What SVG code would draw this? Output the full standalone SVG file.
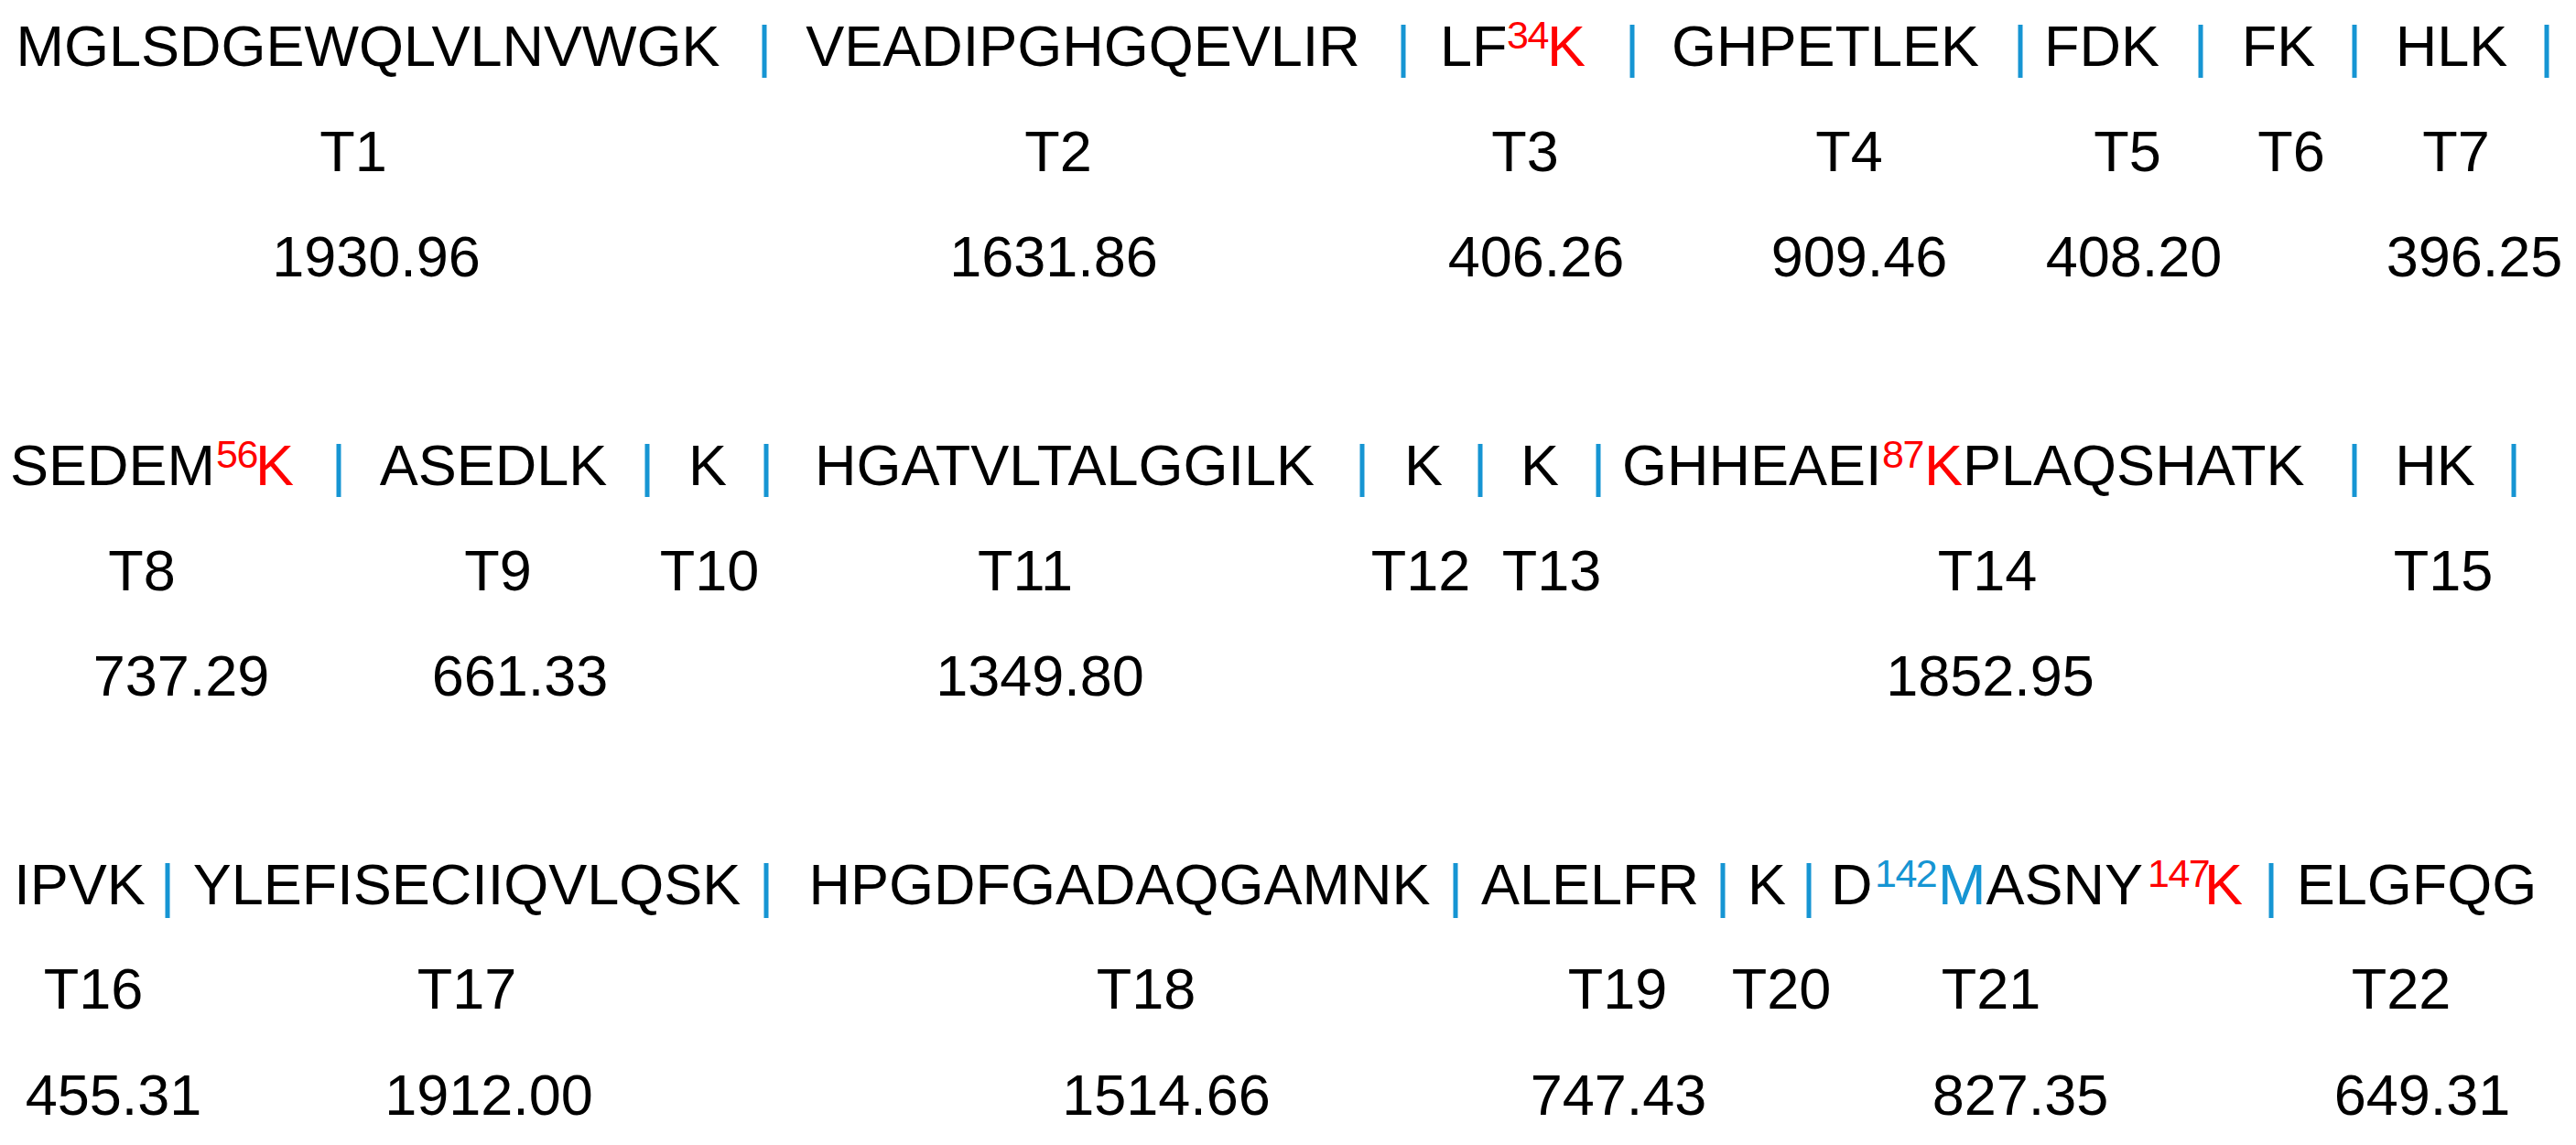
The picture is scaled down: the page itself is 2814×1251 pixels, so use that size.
<svg xmlns="http://www.w3.org/2000/svg" width="2814" height="1251" viewBox="0 0 2814 1251">
<style>
text{font-family:"Liberation Sans",Arial,sans-serif;font-size:63px;fill:#000}
.m{text-anchor:middle}
.sup{font-size:43px;letter-spacing:-1.5px}
.red{fill:#ff0000}
.blue{fill:#1695d3}
.bar{stroke:#1695d3;stroke-width:5;fill:none}
</style>
<rect width="2814" height="1251" fill="#fff"/>
<g id="T1"><text class="m" x="402" y="72">MGLSDGEWQLVLNVWGK</text><text class="m" x="386" y="187">T1</text><text class="m" x="411" y="302">1930.96</text></g>
<g id="T2"><text class="m" x="1183" y="72">VEADIPGHGQEVLIR</text><text class="m" x="1156" y="187">T2</text><text class="m" x="1151" y="302">1631.86</text></g>
<g id="T3"><text x="1573" y="72">LF<tspan class="sup red" x="1646" dy="-19">34</tspan><tspan class="red" x="1690" dy="19">K</tspan></text><text class="m" x="1666" y="187">T3</text><text class="m" x="1678" y="302">406.26</text></g>
<g id="T4"><text class="m" x="1994" y="72">GHPETLEK</text><text class="m" x="2020" y="187">T4</text><text class="m" x="2031" y="302">909.46</text></g>
<g id="T5"><text class="m" x="2296" y="72">FDK</text><text class="m" x="2324" y="187">T5</text><text class="m" x="2331" y="302">408.20</text></g>
<g id="T6"><text class="m" x="2489" y="72">FK</text><text class="m" x="2503" y="187">T6</text></g>
<g id="T7"><text class="m" x="2678" y="72">HLK</text><text class="m" x="2683" y="187">T7</text><text class="m" x="2703" y="302">396.25</text></g>
<g id="T8"><text x="11" y="530">SEDEM<tspan class="sup red" x="236" dy="-19">56</tspan><tspan class="red" x="279" dy="19">K</tspan></text><text class="m" x="155" y="645">T8</text><text class="m" x="198" y="760">737.29</text></g>
<g id="T9"><text class="m" x="539" y="530">ASEDLK</text><text class="m" x="544" y="645">T9</text><text class="m" x="568" y="760">661.33</text></g>
<g id="T10"><text class="m" x="773" y="530">K</text><text class="m" x="775" y="645">T10</text></g>
<g id="T11"><text class="m" x="1163" y="530">HGATVLTALGGILK</text><text class="m" x="1120" y="645">T11</text><text class="m" x="1136" y="760">1349.80</text></g>
<g id="T12"><text class="m" x="1555" y="530">K</text><text class="m" x="1552" y="645">T12</text></g>
<g id="T13"><text class="m" x="1682" y="530">K</text><text class="m" x="1695" y="645">T13</text></g>
<g id="T14"><text x="1772" y="530">GHHEAEI<tspan class="sup red" x="2056" dy="-19">87</tspan><tspan class="red" x="2102" dy="19">K</tspan>PLAQSHATK</text><text class="m" x="2171" y="645">T14</text><text class="m" x="2174" y="760">1852.95</text></g>
<g id="T15"><text class="m" x="2660" y="530">HK</text><text class="m" x="2669" y="645">T15</text></g>
<g id="T16"><text class="m" x="87" y="988">IPVK</text><text class="m" x="102" y="1102">T16</text><text class="m" x="124" y="1218">455.31</text></g>
<g id="T17"><text class="m" x="510" y="988">YLEFISECIIQVLQSK</text><text class="m" x="510" y="1102">T17</text><text class="m" x="534" y="1218">1912.00</text></g>
<g id="T18"><text class="m" x="1223" y="988">HPGDFGADAQGAMNK</text><text class="m" x="1252" y="1102">T18</text><text class="m" x="1274" y="1218">1514.66</text></g>
<g id="T19"><text class="m" x="1737" y="988">ALELFR</text><text class="m" x="1767" y="1102">T19</text><text class="m" x="1768" y="1218">747.43</text></g>
<g id="T20"><text class="m" x="1930" y="988">K</text><text class="m" x="1946" y="1102">T20</text></g>
<g id="T21"><text x="2000" y="988">D<tspan class="sup blue" x="2048" dy="-19">142</tspan><tspan class="blue" x="2117" dy="19">M</tspan>ASNY<tspan class="sup red" x="2346" dy="-19">147</tspan><tspan class="red" x="2408" dy="19">K</tspan></text><text class="m" x="2175" y="1102">T21</text><text class="m" x="2207" y="1218">827.35</text></g>
<g id="T22"><text class="m" x="2640" y="988">ELGFQG</text><text class="m" x="2623" y="1102">T22</text><text class="m" x="2646" y="1218">649.31</text></g>
<g id="cleavage-sites" class="bar">
<path d="M835 27V85M1533 27V85M1783 27V85M2207 27V85M2404 27V85M2572 27V85M2782 27V85"/>
<path d="M370 485V543M707 485V543M837 485V543M1488 485V543M1617 485V543M1746 485V543M2572 485V543M2746 485V543"/>
<path d="M183 943V1003M837 943V1003M1590 943V1003M1882 943V1003M1976 943V1003M2481 943V1003"/>
</g>
</svg>
